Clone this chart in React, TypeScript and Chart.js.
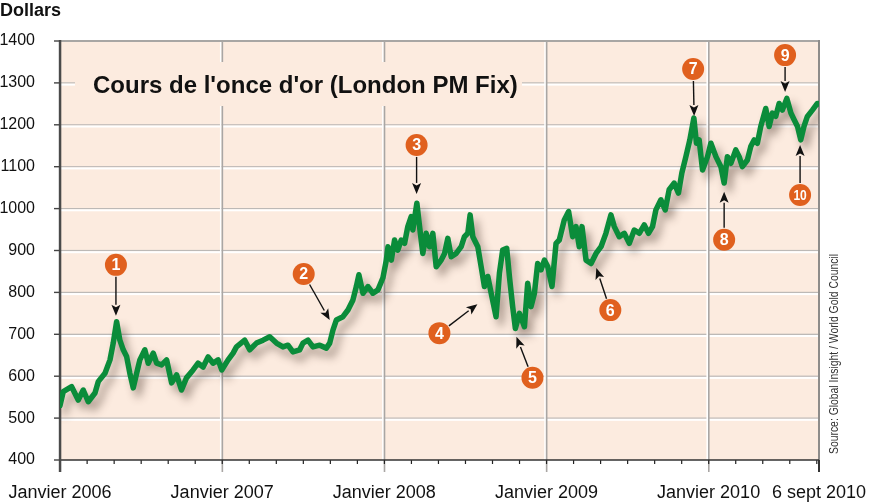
import React, { useEffect, useRef } from "react";
import { Chart, registerables } from "chart.js";

Chart.register(...registerables);

// ---- Data (months since January 2006, London PM fix in USD) ----
const months = [
  0, 0.24, 0.86, 1.35, 1.72, 2.09, 2.59, 2.83, 3.33, 3.7, 3.94, 4.19, 4.43, 4.68, 4.93, 5.17, 5.42, 5.67, 5.91, 6.28,
  6.53, 6.9, 7.15, 7.52, 7.89, 8.26, 8.63, 8.99, 9.36, 9.85, 10.22, 10.59, 10.96, 11.33, 11.7, 11.97,
  12.44, 12.81, 13.06, 13.67, 14.04, 14.54, 15.03, 15.52, 16.02, 16.5, 16.87, 17.24, 17.74, 17.98, 18.35, 18.72,
  19.22, 19.71, 19.96, 20.2, 20.45, 20.94, 21.31, 21.68, 21.93, 22.12, 22.42, 22.79, 23.16, 23.53, 23.9,
  24.15, 24.27, 24.52, 24.76, 25.0, 25.25, 25.5, 25.74, 25.99, 26.11, 26.41, 26.61, 26.85, 27.1, 27.35, 27.59,
  27.84, 28.21, 28.46, 28.7, 28.95, 29.32, 29.69, 29.93, 30.18, 30.35, 30.55, 30.92, 31.17, 31.41, 31.66, 31.91,
  32.27, 32.52, 32.76, 33.06, 33.26, 33.5, 33.7, 34.0, 34.37, 34.61, 34.86, 35.11, 35.35, 35.6, 35.85,
  36.1, 36.41, 36.71, 36.95, 37.32, 37.64, 37.94, 38.19, 38.43, 38.63, 38.93, 39.3, 39.67, 40.04, 40.4, 40.77,
  41.02, 41.39, 41.76, 42.13, 42.5, 42.87, 43.24, 43.55, 43.85, 44.1, 44.47, 44.79, 45.08, 45.45, 45.77, 46.02,
  46.32, 46.61, 46.91, 47.1, 47.3, 47.55, 47.92,
  48.17, 48.54, 48.91, 49.15, 49.39, 49.65, 50.01, 50.26, 50.5, 50.87, 51.12, 51.37, 51.61, 51.86, 52.23, 52.48,
  52.72, 52.97, 53.22, 53.46, 53.79, 54.09, 54.33, 54.58, 54.82, 55.06, 55.31, 55.68, 56.05, 56.17,
];

const prices = [
  530, 563, 575, 543, 567, 539, 560, 587, 607, 639, 679, 730, 686, 663, 647, 607, 572, 607, 639, 663,
  631, 655, 631, 627, 639, 584, 603, 567, 596, 615, 631, 622, 646, 631, 639, 615,
  639, 655, 670, 686, 663, 679, 686, 694, 679, 670, 674, 658, 663, 679, 686, 670,
  674, 667, 679, 710, 734, 742, 758, 782, 814, 842, 798, 814, 798, 806, 835,
  877, 909, 877, 925, 901, 925, 917, 957, 981, 949, 1013, 957, 893, 941, 909, 941,
  861, 877, 893, 929, 885, 893, 909, 933, 941, 985, 933, 909, 861, 814, 838, 798,
  742, 846, 901, 905, 838, 766, 714, 750, 718, 822, 766, 798, 869, 854, 877,
  861, 814, 917, 925, 973, 993, 933, 957, 909, 957, 877, 869, 893, 909, 941, 985,
  957, 933, 941, 917, 949, 941, 961, 941, 957, 997, 1021, 997, 1045, 1061, 1037, 1085,
  1124, 1164, 1216, 1156, 1164, 1092, 1124,
  1156, 1124, 1100, 1061, 1124, 1108, 1140, 1124, 1100, 1116, 1148, 1164, 1156, 1196, 1239, 1196,
  1228, 1220, 1251, 1235, 1263, 1228, 1212, 1196, 1164, 1196, 1220, 1235, 1251, 1250,
];

const axisTickMonths = [0, 12, 24, 36, 48, 56.17];
const axisTickLabels = ["Janvier 2006", "Janvier 2007", "Janvier 2008", "Janvier 2009", "Janvier 2010", "6 sept 2010"];
const minorTickStepMonths = 2;
const yMin = 400;
const yMax = 1400;
const yStep = 100;

const titleText = "Cours de l'once d'or (London PM Fix)";
const yAxisTitle = "Dollars";
const sourceText = "Source: Global Insight / World Gold Council";

// Numbered callouts: arrow tip anchored on data coordinates
const calloutNumbers = ["1", "2", "3", "4", "5", "6", "7", "8", "9", "10"];
const calloutMonths = [4.14, 19.96, 26.39, 30.89, 33.78, 39.69, 46.93, 49.15, 53.66, 54.77];
const calloutPrices = [744, 734, 1035, 772, 694, 858, 1221, 1040, 1278, 1152];

// ---- Styling / layout (not data) ----
const calloutOffsets: [number, number][] = [
  [0, -51], [-26, -46], [0, -49], [-38, 29], [16, 41], [14, 42], [-1, -47], [0, 48], [0, -37], [0, 50],
];
const FONT = '"Liberation Sans", Arial, Helvetica, sans-serif';
const PLOT_BG = "#FCEBDF";
const LINE_GREEN = "#0A8C3A";
const ORANGE = "#E0601E";

const decorPlugin = {
  id: "decor",
  beforeDraw(chart: any) {
    const { ctx, chartArea: a } = chart;
    ctx.save();
    ctx.fillStyle = "#ffffff";
    ctx.fillRect(0, 0, chart.width, chart.height);
    ctx.fillStyle = PLOT_BG;
    ctx.fillRect(a.left, a.top, a.right - a.left, a.bottom - a.top);
    ctx.restore();
  },
  beforeDatasetsDraw(chart: any) {
    const { ctx, chartArea: a, scales } = chart;
    const x = scales.x;
    const y = scales.y;
    ctx.save();
    // horizontal grid lines: gray line with white highlight below
    for (let v = yMin + yStep; v < yMax; v += yStep) {
      const py = y.getPixelForValue(v);
      ctx.fillStyle = "#BDB9B6";
      ctx.fillRect(a.left, py - 0.6, a.right - a.left, 1.3);
      ctx.fillStyle = "#FFFFFF";
      ctx.fillRect(a.left, py + 0.7, a.right - a.left, 2);
    }
    // vertical year lines
    for (const m of axisTickMonths.slice(1, -1)) {
      const px = x.getPixelForValue(m);
      ctx.fillStyle = "#FFFFFF";
      ctx.fillRect(px - 2.2, a.top, 1.6, a.bottom - a.top);
      ctx.fillStyle = "#A9A6A4";
      ctx.fillRect(px - 0.6, a.top, 1.6, a.bottom - a.top + 12);
    }
    // title box interrupting grid
    ctx.fillStyle = PLOT_BG;
    ctx.fillRect(75, 62, 447, 44);
    ctx.fillStyle = "#111111";
    ctx.font = `bold 24px ${FONT}`;
    ctx.textBaseline = "alphabetic";
    ctx.textAlign = "left";
    ctx.fillText(titleText, 93, 93);

    // top border
    ctx.fillStyle = "#A8A6A4";
    ctx.fillRect(a.left, a.top - 1, a.right - a.left, 2);
    // right border
    ctx.fillStyle = "#8E8C8A";
    ctx.fillRect(a.right - 1, a.top - 1, 2, a.bottom - a.top + 1);
    ctx.fillStyle = "#333333";
    ctx.fillRect(a.right - 1, a.bottom, 2, 12);
    // minor ticks
    ctx.fillStyle = "#222222";
    for (let m = 0; m <= x.max + 0.001; m += minorTickStepMonths) {
      const px = x.getPixelForValue(m);
      ctx.fillRect(px - 0.5, a.bottom, 1.2, 4);
    }
    // bottom axis
    ctx.fillStyle = "#333333";
    ctx.fillRect(a.left, a.bottom - 0.75, a.right - a.left, 1.5);
    // left axis
    ctx.fillStyle = "#4A4A4A";
    ctx.fillRect(a.left - 1.2, a.top - 1, 2.5, a.bottom - a.top + 13);
    // y ticks
    for (let v = yMin; v <= yMax; v += yStep) {
      const py = y.getPixelForValue(v);
      ctx.fillStyle = "#444444";
      ctx.fillRect(a.left - 6, py - 0.7, 6, 1.4);
    }
    ctx.restore();
  },
  beforeDatasetDraw(chart: any) {
    const ctx = chart.ctx;
    ctx.save();
    ctx.shadowColor = "rgba(70,50,40,0.45)";
    ctx.shadowBlur = 9;
    ctx.shadowOffsetX = 5;
    ctx.shadowOffsetY = 7;
  },
  afterDatasetDraw(chart: any) {
    chart.ctx.restore();
  },
  afterDatasetsDraw(chart: any) {
    const { ctx, scales } = chart;
    const x = scales.x;
    const y = scales.y;
    const r = 11;
    ctx.save();
    calloutNumbers.forEach((label, i) => {
      const tx = x.getPixelForValue(calloutMonths[i]);
      const ty = y.getPixelForValue(calloutPrices[i]);
      const cx = tx + calloutOffsets[i][0];
      const cy = ty + calloutOffsets[i][1];
      const dx = tx - cx;
      const dy = ty - cy;
      const len = Math.hypot(dx, dy);
      const ux = dx / len;
      const uy = dy / len;
      const headLen = 11;
      const headHalf = 4.5;
      const sx = cx + ux * (r + 1);
      const sy = cy + uy * (r + 1);
      const bx = tx - ux * headLen;
      const by = ty - uy * headLen;
      ctx.strokeStyle = "#111111";
      ctx.lineWidth = 1.4;
      ctx.beginPath();
      ctx.moveTo(sx, sy);
      ctx.lineTo(bx, by);
      ctx.stroke();
      ctx.fillStyle = "#111111";
      ctx.beginPath();
      ctx.moveTo(tx, ty);
      ctx.lineTo(bx - uy * headHalf, by + ux * headHalf);
      ctx.lineTo(bx + ux * 2.5, by + uy * 2.5);
      ctx.lineTo(bx + uy * headHalf, by - ux * headHalf);
      ctx.closePath();
      ctx.fill();
      // circle
      ctx.fillStyle = ORANGE;
      ctx.beginPath();
      ctx.arc(cx, cy, r, 0, Math.PI * 2);
      ctx.fill();
      ctx.fillStyle = "#FFFFFF";
      ctx.font = `bold ${label.length > 1 ? 15 : 16}px ${FONT}`;
      ctx.textAlign = "center";
      ctx.textBaseline = "middle";
      ctx.save();
      ctx.translate(cx, cy + 1);
      if (label.length > 1) ctx.scale(0.8, 1);
      ctx.fillText(label, 0, 0);
      ctx.restore();
    });
    ctx.restore();
  },
  afterDraw(chart: any) {
    const { ctx, chartArea: a } = chart;
    ctx.save();
    ctx.fillStyle = "#111111";
    ctx.font = `bold 18px ${FONT}`;
    ctx.textAlign = "left";
    ctx.textBaseline = "alphabetic";
    ctx.fillText(yAxisTitle, 0, 16);
    // source text, rotated
    ctx.font = `12px ${FONT}`;
    ctx.fillStyle = "#333333";
    const w = ctx.measureText(sourceText).width;
    const target = 200;
    ctx.translate(a.right + 19, a.bottom - 6);
    ctx.rotate(-Math.PI / 2);
    ctx.scale(target / w, 1);
    ctx.fillText(sourceText, 0, 0);
    ctx.restore();
  },
};

export default function App() {
  const ref = useRef<HTMLCanvasElement>(null);
  useEffect(() => {
    document.body.style.margin = "0";
    if (!ref.current) return;
    const chart = new Chart(ref.current, {
      type: "line",
      data: {
        datasets: [
          {
            data: months.map((m, i) => ({ x: m, y: prices[i] })),
            borderColor: LINE_GREEN,
            borderWidth: 5.5,
            pointRadius: 0,
            tension: 0,
            borderJoinStyle: "round",
            borderCapStyle: "round",
            fill: false,
          },
        ],
      },
      options: {
        responsive: false,
        animation: false,
        layout: { padding: { top: 41, right: 51, left: 0, bottom: 0 } },
        plugins: { legend: { display: false }, tooltip: { enabled: false } },
        scales: {
          x: {
            type: "linear",
            min: 0,
            max: axisTickMonths[axisTickMonths.length - 1],
            afterBuildTicks: (s: any) => {
              s.ticks = axisTickMonths.map((v) => ({ value: v }));
            },
            afterFit: (s: any) => {
              s.height = 44;
              s.paddingLeft = 0;
              s.paddingRight = 0;
              s.paddingTop = 0;
              s.paddingBottom = 0;
            },
            grid: { display: false, drawTicks: false },
            border: { display: false },
            ticks: {
              autoSkip: false,
              maxRotation: 0,
              minRotation: 0,
              padding: 22,
              color: "#111111",
              font: { family: FONT, size: 18 },
              callback: (v: any) => {
                const i = axisTickMonths.indexOf(Number(v));
                return i >= 0 ? axisTickLabels[i] : "";
              },
            },
          },
          y: {
            min: yMin,
            max: yMax,
            afterFit: (s: any) => {
              s.width = 60;
              s.paddingLeft = 0;
              s.paddingRight = 0;
              s.paddingTop = 0;
              s.paddingBottom = 0;
            },
            grid: { display: false, drawTicks: false },
            border: { display: false },
            ticks: {
              stepSize: yStep,
              padding: 25,
              color: "#111111",
              font: { family: FONT, size: 16 },
              callback: (v: any) => String(v),
            },
          },
        },
      },
      plugins: [decorPlugin],
    });
    return () => chart.destroy();
  }, []);
  return (
    <div style={{ position: "absolute", left: 0, top: 0, width: 870, height: 504, background: "#fff" }}>
      <canvas ref={ref} width={870} height={504} style={{ display: "block", width: 870, height: 504 }} />
    </div>
  );
}
